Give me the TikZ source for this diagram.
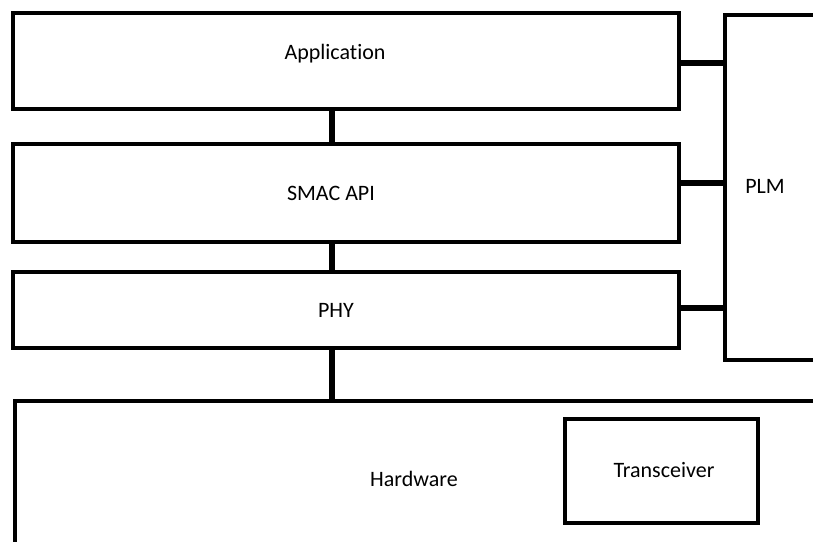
\documentclass[tikz,border=0pt]{standalone}
\usepackage{fontspec}
\setmainfont[Ligatures=NoCommon]{Carlito}
\tikzset{
  layer/.style={draw, line width=4pt, rectangle, inner sep=0pt},
  link/.style={draw, line width=5.5pt},
  txt/.style={anchor=base, inner sep=0pt, font=\fontsize{22}{26}\selectfont}
}
\begin{document}
\begin{tikzpicture}[x=1pt, y=-1pt]
  \useasboundingbox (0,0) rectangle (813,541);
  \clip (0,0) rectangle (813,541);

  % Capas de software
  \node[layer, minimum width=666pt, minimum height=96pt] (app) at (346,61) {};
  \node[layer, minimum width=666pt, minimum height=98pt] (smac) at (346,193) {};
  \node[layer, minimum width=666pt, minimum height=76pt] (phy) at (346,310) {};

  % PLM (cortado por el borde derecho)
  \node[layer, anchor=north west, minimum width=140pt, minimum height=345pt] (plm) at (723,13) {};

  % Hardware (cortado por abajo y a la derecha)
  \node[layer, anchor=north west, minimum width=840pt, minimum height=170pt] (hw) at (13,399) {};
  \node[layer, minimum width=193pt, minimum height=104pt] (trx) at (661.5,471) {};

  % Textos
  \node[txt] (app-txt) at (335,59) {Application};
  \node[txt] (smac-txt) at (331,200) {SMAC API};
  \node[txt] (phy-txt) at (336,317) {PHY};
  \node[txt] (plm-txt) at (765,193) {PLM};
  \node[txt] (hw-txt) at (414,486) {Hardware};
  \node[txt] (trx-txt) at (664,477) {Transceiver};

  % Conexiones verticales
  \coordinate (bus) at (332,0);
  \draw[link] (app.south -| bus) -- (smac.north -| bus);
  \draw[link] (smac.south -| bus) -- (phy.north -| bus);
  \draw[link] (phy.south -| bus) -- (hw.north -| bus);

  % Conexiones hacia PLM
  \coordinate (t1) at (0,63);
  \coordinate (t2) at (0,183);
  \coordinate (t3) at (0,308);
  \draw[link] (app.east |- t1) -- (plm.west |- t1);
  \draw[link] (smac.east |- t2) -- (plm.west |- t2);
  \draw[link] (phy.east |- t3) -- (plm.west |- t3);
\end{tikzpicture}
\end{document}
